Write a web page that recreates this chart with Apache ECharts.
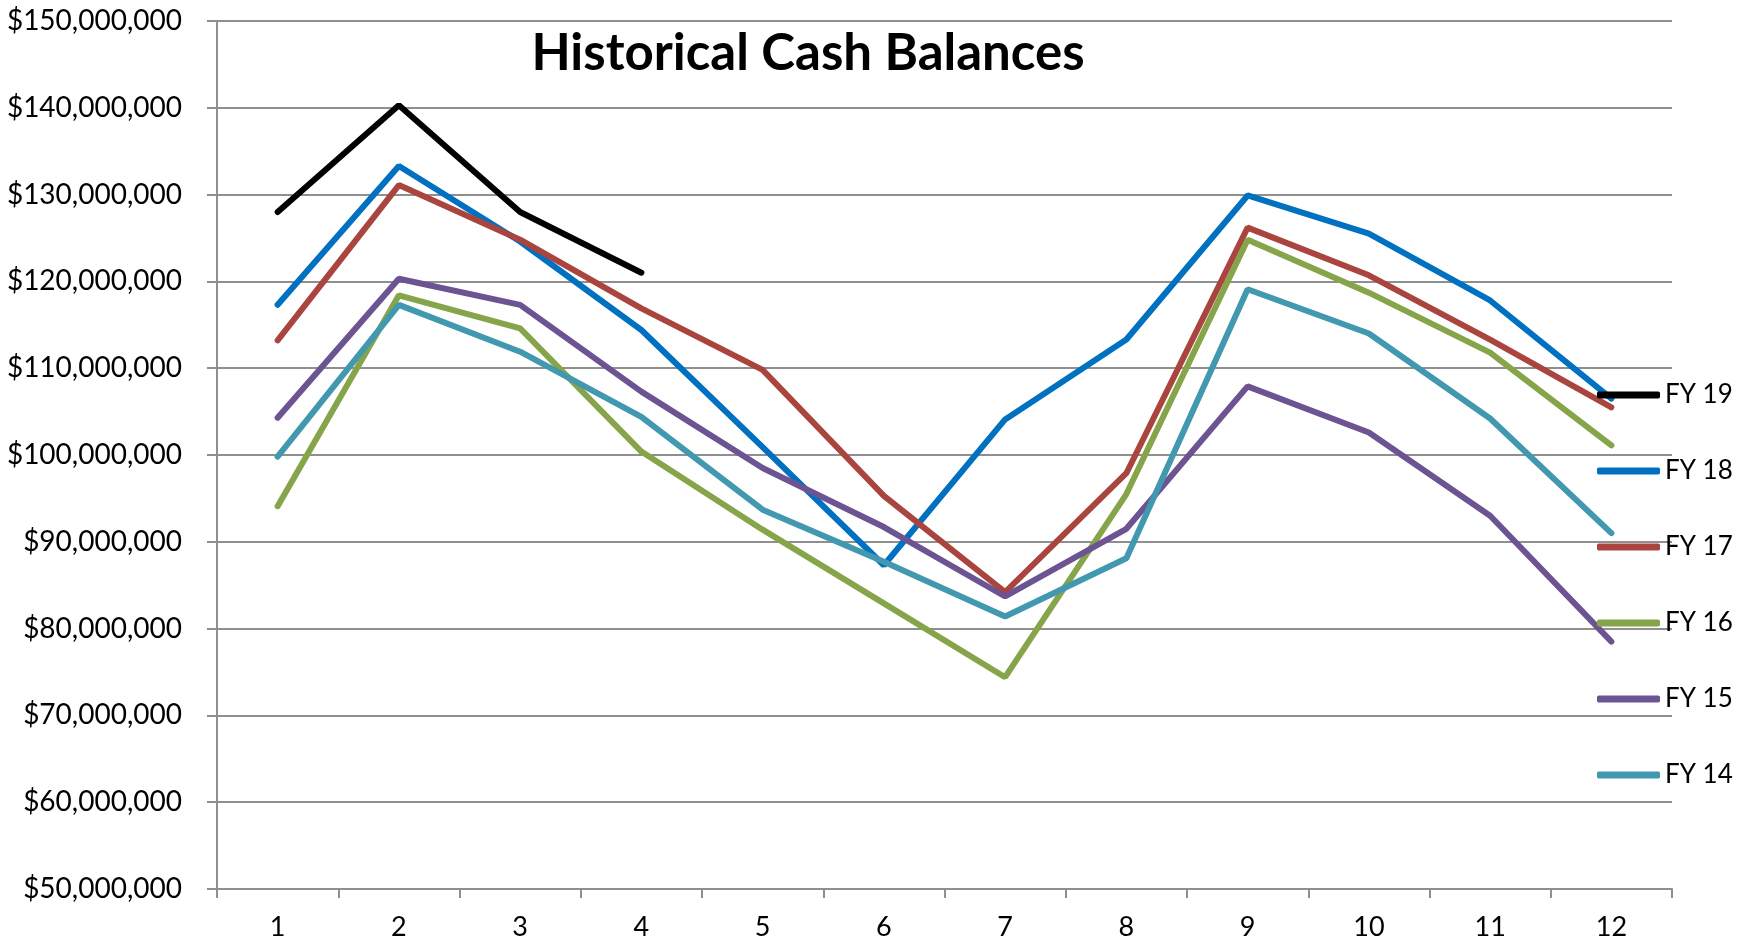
<!DOCTYPE html>
<html>
<head>
<meta charset="utf-8">
<script src="https://cdn.jsdelivr.net/npm/echarts@6/dist/echarts.min.js"></script>
<style>
html, body { margin: 0; padding: 0; background: #fff; }
#container { width: 1754px; height: 947px; }
</style>
</head>
<body>
<div id="container"></div>
<script>
var dom = document.getElementById("container");
var myChart = echarts.init(dom);

// months 1..12
var months = ['1', '2', '3', '4', '5', '6', '7', '8', '9', '10', '11', '12'];

// cash balances, in dollars
var fy19 = [128000000, 140300000, 128000000, 121000000];
var fy18 = [117300000, 133300000, 124600000, 114400000, 100900000, 87300000, 104100000, 113300000, 129900000, 125500000, 117800000, 106500000];
var fy17 = [113200000, 131100000, 124800000, 116900000, 109800000, 95300000, 84200000, 97900000, 126200000, 120700000, 113300000, 105500000];
var fy16 = [94100000, 118400000, 114600000, 100400000, 91400000, 82900000, 74400000, 95500000, 124800000, 118700000, 111800000, 101100000];
var fy15 = [104300000, 120300000, 117300000, 107300000, 98500000, 91700000, 83700000, 91500000, 107900000, 102600000, 93000000, 78500000];
var fy14 = [99800000, 117300000, 111900000, 104400000, 93700000, 87700000, 81400000, 88100000, 119100000, 114000000, 104200000, 91000000];

var seriesNames = ['FY 19', 'FY 18', 'FY 17', 'FY 16', 'FY 15', 'FY 14'];
var seriesData = [fy19, fy18, fy17, fy16, fy15, fy14];
var colors = ['#000000', '#0070C0', '#A9443F', '#86A44A', '#6C5392', '#4198AF'];

var gridColor = '#8f8f8f';

function money(v) {
    return '$' + v.toString().replace(/\B(?=(\d{3})+(?!\d))/g, ',');
}

var series = seriesNames.map(function (name, i) {
    return {
        name: name,
        type: 'line',
        data: seriesData[i],
        symbol: 'none',
        showSymbol: false,
        animation: false,
        lineStyle: {
            color: colors[i],
            width: 6,
            cap: 'round'
        },
        itemStyle: { color: colors[i] }
    };
});

var option = {
    animation: false,
    color: colors,
    title: {
        text: 'Historical Cash Balances',
        left: 808,
        top: 28,
        textAlign: 'center',
        padding: 0,
        textStyle: {
            fontFamily: 'Lato',
            fontWeight: 'bold',
            fontSize: 51,
            color: '#000'
        }
    },
    legend: {
        orient: 'vertical',
        left: 1597,
        top: 380,
        padding: 0,
        itemGap: 46,
        itemWidth: 63,
        itemHeight: 7,
        icon: 'roundRect',
        data: seriesNames,
        textStyle: {
            fontFamily: 'Lato',
            fontSize: 26,
            lineHeight: 30,
            color: '#000'
        }
    },
    grid: {
        left: 217,
        right: 82,
        top: 21,
        bottom: 58
    },
    xAxis: {
        type: 'category',
        data: months,
        boundaryGap: true,
        axisLine: { lineStyle: { color: gridColor, width: 2 } },
        axisTick: { show: true, length: 9, lineStyle: { color: gridColor, width: 2 } },
        axisLabel: {
            margin: 25,
            fontFamily: 'Lato',
            fontSize: 27,
            color: '#000'
        }
    },
    yAxis: {
        type: 'value',
        min: 50000000,
        max: 150000000,
        interval: 10000000,
        axisLine: { show: true, lineStyle: { color: gridColor, width: 2 } },
        axisTick: { show: true, length: 10, lineStyle: { color: gridColor, width: 2 } },
        splitLine: { lineStyle: { color: gridColor, width: 2 } },
        axisLabel: {
            margin: 35,
            fontFamily: 'Lato',
            fontSize: 28,
            color: '#000',
            formatter: money
        }
    },
    series: series
};

if (option && typeof option === "object") {
    myChart.setOption(option, true);
}
</script>
</body>
</html>
